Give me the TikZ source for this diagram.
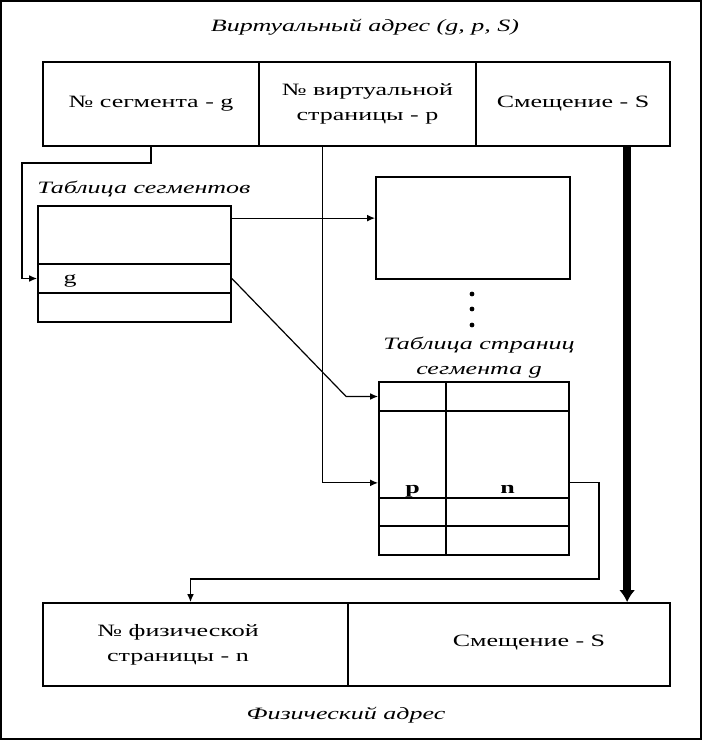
\documentclass[tikz,border=0pt]{standalone}
\usepackage{fontspec}
\setmainfont{Liberation Serif}
\newfontfamily\cellfont[FakeStretch=1.5]{Liberation Serif}
\newfontfamily\capfont[FakeStretch=1.5]{Liberation Serif}
\usetikzlibrary{arrows.meta,calc}

\begin{document}
\begin{tikzpicture}[x=0.75pt, y=-0.75pt,
  cell/.style={draw, line width=1.3pt, inner sep=0pt, align=center,
    font=\cellfont\fontsize{13}{19}\selectfont},
  caption/.style={font=\capfont\itshape\fontsize{13}{19}\selectfont, align=center, inner sep=0pt},
  ptmark/.style={font=\cellfont\bfseries\fontsize{13}{16}\selectfont, anchor=base, inner sep=0pt},
  conn/.style={line width=0.9pt, -{Latex[length=6pt,width=5pt]}},
  bigarrow/.style={line width=5.5pt, -{Latex[length=9pt,width=12pt]}}]
\useasboundingbox (0,0) rectangle (703,741);
\draw[line width=1.5pt] (1,1) rectangle (701,739);

% virtual address
\node[caption] (vtitle) at (365,27) {Виртуальный адрес (g, p, S)};
\node[cell, minimum width=162pt, minimum height=63pt] (vseg) at (151,104) {№ сегмента - g};
\node[cell, minimum width=162.75pt, minimum height=63pt] (vpage) at (367.5,104) {№ виртуальной\\страницы - p};
\node[cell, minimum width=145.5pt, minimum height=63pt] (voff) at (573,104) {Смещение - S};

% segment table
\node[caption] (segcap) at (144,189) {Таблица сегментов};
\node[cell, minimum width=144.75pt, minimum height=43.5pt] (sr1) at (134.5,235) {};
\node[cell, minimum width=144.75pt, minimum height=21.75pt] (sr2) at (134.5,278.5) {};
\node[cell, minimum width=144.75pt, minimum height=21.75pt] (sr3) at (134.5,307.5) {};
\node[font=\cellfont\fontsize{13}{19}\selectfont, inner sep=0pt] (sg) at (70,281) {g};

% page table of another segment
\node[cell, minimum width=145.5pt, minimum height=76.5pt] (blk) at (473,228) {};
\foreach \yy in {294,309,325}
  \fill (472,\yy) circle (1.8pt);

% page table of segment g
\node[caption] (ptcap) at (479,357.5) {Таблица страниц\\сегмента g};
\foreach \r/\yc/\h in {1/396.5/21.75, 2/454.5/65.25, 3/512/21, 4/540.5/21.75}
{
  \node[cell, minimum width=50.25pt, minimum height=\h pt] (ptl\r) at (412.5,\yc) {};
  \node[cell, minimum width=92.25pt, minimum height=\h pt] (ptr\r) at (507.5,\yc) {};
}
\node[ptmark] (pp) at (412.5,493) {p};
\node[ptmark] (pn) at (507.5,493) {n};

% physical address
\node[cell, minimum width=228.75pt, minimum height=62.25pt] (pnum) at (195.5,644.5) {};
\node[cell, minimum width=241.5pt, minimum height=62.25pt] (poff) at (509,644.5) {};
\node[font=\cellfont\fontsize{13}{19}\selectfont, align=center] (pnumtxt) at (178,644.5) {№ физической\\страницы - n};
\node[font=\cellfont\fontsize{13}{19}\selectfont] (pofftxt) at (529,643) {Смещение - S};
\node[caption] (ptitle) at (346,715) {Физический адрес};

% connectors
\coordinate (bendA) at (22,163);
\draw[conn] (vseg.south) |- (bendA) |- (sr2.west);
\coordinate (outA) at ($(sr1.north east)+(0,13)$);
\draw[conn] (outA) -- (outA -| blk.west);
\draw[conn] (sr2.east) -- ($(ptl1.west)+(-32,0)$) -- (ptl1.west);
\coordinate (pdown) at ($(vpage.south west)+(64,0)$);
\coordinate (inP) at ($(ptl2.south west)+(0,-16)$);
\draw[conn] (pdown) |- (inP);
\coordinate (outP) at ($(ptr2.south east)+(0,-16)$);
\coordinate (bendB) at (599,579);
\draw[conn] (outP) -| (bendB) -| ($(pnum.north)+(-5,0)$);
\coordinate (sTop) at ($(voff.south west)+(152,0)$);
\draw[bigarrow] (sTop) -- (sTop |- poff.north);
\end{tikzpicture}
\end{document}
